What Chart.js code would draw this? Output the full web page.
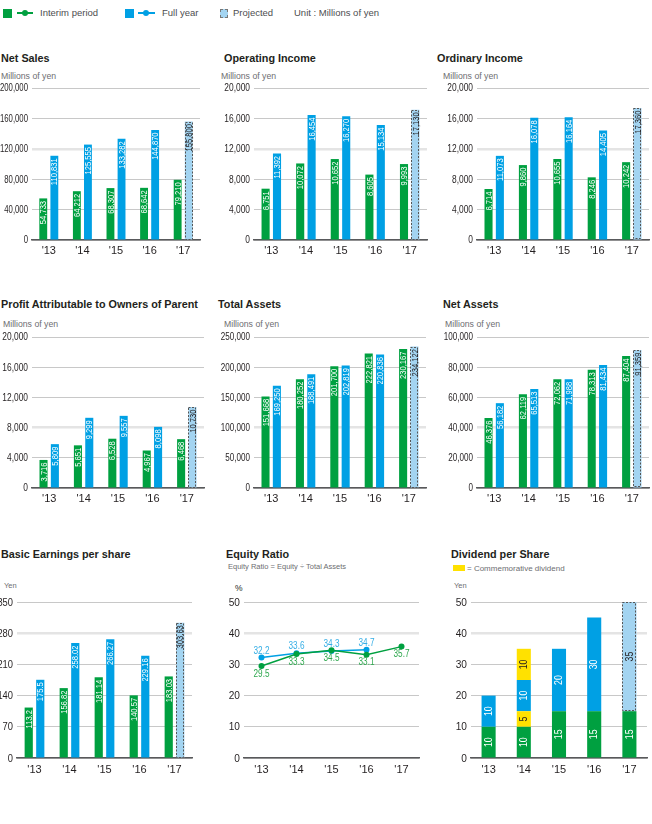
<!DOCTYPE html>
<html><head><meta charset="utf-8">
<script src="https://cdn.jsdelivr.net/npm/chart.js@4.4.1/dist/chart.umd.min.js"></script>
<style>
body{margin:0;background:#fff;width:652px;height:824px;position:relative;overflow:hidden;font-family:'Liberation Sans',Arial,sans-serif;}
.t{position:absolute;font-weight:bold;font-size:10.8px;color:#231f20;white-space:nowrap;line-height:14px;}
.u{position:absolute;font-size:8.7px;color:#6d6e71;white-space:nowrap;line-height:12px;}
.lg{position:absolute;font-size:9.5px;color:#4d4d4f;white-space:nowrap;line-height:12px;top:7px;}
.sw{position:absolute;}
canvas{position:absolute;}
</style></head><body>
<!-- legend -->
<div class="sw" style="left:3px;top:9px;width:9px;height:9px;background:#00a040"></div>
<div class="sw" style="left:17px;top:12px;width:16px;height:1.5px;background:#00a040"></div>
<div class="sw" style="left:22px;top:10px;width:6px;height:6px;border-radius:50%;background:#00a040"></div>
<div class="lg" style="left:40px">Interim period</div>
<div class="sw" style="left:125px;top:9px;width:9px;height:9px;background:#00a0e4"></div>
<div class="sw" style="left:138px;top:12px;width:17px;height:1.5px;background:#00a0e4"></div>
<div class="sw" style="left:143px;top:10px;width:6px;height:6px;border-radius:50%;background:#00a0e4"></div>
<div class="lg" style="left:162px">Full year</div>
<div class="sw" style="left:220px;top:9px;width:6px;height:7px;background:#a3d4f1;border:1px dashed #777"></div>
<div class="lg" style="left:233px">Projected</div>
<div class="lg" style="left:294px">Unit : Millions of yen</div>

<div class="t" style="left:1px;top:51px">Net Sales</div>
<div class="u" style="left:1px;top:70px">Millions of yen</div>
<div class="t" style="left:224px;top:51px">Operating Income</div>
<div class="u" style="left:221px;top:70px">Millions of yen</div>
<div class="t" style="left:437px;top:51px">Ordinary Income</div>
<div class="u" style="left:443px;top:70px">Millions of yen</div>

<div class="t" style="left:1px;top:297px">Profit Attributable to Owners of Parent</div>
<div class="u" style="left:3px;top:318px">Millions of yen</div>
<div class="t" style="left:218px;top:297px">Total Assets</div>
<div class="u" style="left:224px;top:318px">Millions of yen</div>
<div class="t" style="left:443px;top:297px">Net Assets</div>
<div class="u" style="left:445px;top:318px">Millions of yen</div>

<div class="t" style="left:1px;top:547px">Basic Earnings per share</div>
<div class="u" style="left:4px;top:580px;font-size:7.5px">Yen</div>
<div class="t" style="left:226px;top:547px">Equity Ratio</div>
<div class="u" style="left:228px;top:561px;font-size:7.5px">Equity Ratio = Equity ÷ Total Assets</div>
<div class="u" style="left:235px;top:582px;font-size:8.5px;color:#231f20">%</div>
<div class="t" style="left:451px;top:547px">Dividend per Share</div>
<div class="sw" style="left:453px;top:565px;width:12px;height:6px;background:#ffe100"></div>
<div class="u" style="left:467px;top:563px;font-size:8px">= Commemorative dividend</div>
<div class="u" style="left:454px;top:580px;font-size:7.5px">Yen</div>

<script>
const years = ["'13", "'14", "'15", "'16", "'17"];
const projectedIndex = 4;

const netSalesInterim = [54733, 64212, 68307, 68642, 79210];
const netSalesFull = [110831, 125555, 133282, 144870, 155800];
const opIncomeInterim = [6751, 10072, 10652, 8605, 9993];
const opIncomeFull = [11392, 16454, 16270, 15134, 17130];
const ordIncomeInterim = [6714, 9860, 10655, 8246, 10242];
const ordIncomeFull = [11073, 16078, 16164, 14405, 17360];
const profitInterim = [3716, 5651, 6528, 4967, 6468];
const profitFull = [5809, 9299, 9557, 8098, 10730];
const totalAssetsInterim = [151668, 180252, 201700, 222821, 230167];
const totalAssetsFull = [169250, 188491, 202819, 220836, 234122];
const netAssetsInterim = [46376, 62119, 72062, 78313, 87404];
const netAssetsFull = [56182, 65513, 71988, 81434, 91359];
const epsInterim = [113.2, 156.82, 181.14, 140.57, 183.03];
const epsFull = [175.5, 258.02, 266.27, 229.16, 303.63];
const equityInterim = [29.5, 33.3, 34.5, 33.1, 35.7];
const equityFull = [32.2, 33.6, 34.3, 34.7, null];
const divInterim = [10, 10, 15, 15, 15];
const divCommemInterim = [null, 5, null, null, null];
const divYearEnd = [10, 10, 20, 30, 35];
const divCommemYearEnd = [null, 10, null, null, null];

const GREEN = '#00a040', BLUE = '#00a0e4', PROJ = '#a3d4f1', YELLOW = '#ffe100';
const NUMF = "'Liberation Sans',Arial,sans-serif";
const TXTF = "'Liberation Sans',Arial,sans-serif";
const PADL = 44, PADR = 4, PADT = 8, XH = 22;

const fmtComma = v => Number(v).toLocaleString('en-US');
const fmtPlain = v => String(v);

// condensed text helper
function condText(ctx, txt, x, y, sx, align) {
  ctx.save();
  ctx.translate(x, y);
  ctx.scale(sx, 1);
  ctx.textAlign = align;
  ctx.fillText(txt, 0, 0);
  ctx.restore();
}

const yTicks = {
  id: 'yTicks',
  afterDraw(chart, args, opts) {
    const s = chart.scales.y, ctx = chart.ctx;
    ctx.save();
    ctx.fillStyle = '#231f20';
    ctx.font = opts.size + 'px ' + NUMF;
    ctx.textBaseline = 'middle';
    s.ticks.forEach(t => {
      condText(ctx, opts.fmt(t.value), s.right - 4, s.getPixelForValue(t.value) + 0.5, opts.sx, 'right');
    });
    ctx.restore();
  }
};

const barLabels = {
  id: 'barLabels',
  afterDatasetsDraw(chart, args, opts) {
    const ctx = chart.ctx;
    chart.data.datasets.forEach((ds, di) => {
      const meta = chart.getDatasetMeta(di);
      meta.data.forEach((el, i) => {
        const v = ds.data[i];
        if (v == null) return;
        const p = el.getProps(['x', 'y', 'base', 'width'], true);
        const isProj = ds.projIndex === i;
        ctx.save();
        if (isProj) {
          ctx.setLineDash([2, 1.5]);
          ctx.strokeStyle = '#555';
          ctx.lineWidth = 1;
          ctx.strokeRect(Math.round(p.x - p.width / 2) + 0.5, Math.round(p.y) + 0.5, Math.round(p.width) - 1, Math.round(p.base - p.y) - 1);
          ctx.setLineDash([]);
        }
        const col = Array.isArray(ds.labelColor) ? ds.labelColor[i] : ds.labelColor;
        ctx.fillStyle = col;
        ctx.font = opts.size + 'px ' + NUMF;
        ctx.textBaseline = 'middle';
        const txt = (ds.fmt || fmtComma)(v);
        if (opts.mode === 'center') {
          ctx.translate(p.x + 0.5, (p.y + p.base) / 2);
          ctx.rotate(-Math.PI / 2);
          ctx.scale(opts.sx, 1);
          ctx.textAlign = 'center';
        } else {
          ctx.translate(p.x + 0.5, p.y + 2.5);
          ctx.rotate(-Math.PI / 2);
          ctx.scale(opts.sx, 1);
          ctx.textAlign = 'right';
        }
        ctx.fillText(txt, 0, 0);
        ctx.restore();
      });
    });
  }
};

const lineLabels = {
  id: 'lineLabels',
  afterDatasetsDraw(chart) {
    const ctx = chart.ctx;
    chart.data.datasets.forEach((ds, di) => {
      const meta = chart.getDatasetMeta(di);
      meta.data.forEach((el, i) => {
        const v = ds.data[i];
        if (v == null) return;
        ctx.save();
        ctx.fillStyle = ds.labelColor;
        ctx.font = '10px ' + NUMF;
        ctx.textBaseline = 'middle';
        condText(ctx, String(v), el.x, el.y + (ds.labelPos === 'above' ? -6.5 : 8), 0.82, 'center');
        ctx.restore();
      });
    });
  }
};

function mkCanvas(g) {
  const c = document.createElement('canvas');
  const W = g.R - g.L + PADL + PADR, H = g.B - g.T + PADT + XH;
  c.width = W; c.height = H;
  c.style.left = (g.L - PADL) + 'px'; c.style.top = (g.T - PADT) + 'px';
  c.style.width = W + 'px'; c.style.height = H + 'px';
  document.body.appendChild(c);
  return c;
}

function yScale(max, step, special, stacked) {
  return {
    stacked: !!stacked, min: 0, max: max,
    ticks: { stepSize: step, display: false },
    grid: {
      drawTicks: false,
      color: c => (c.tick && c.tick.value === special) ? '#e4e4e4' : '#c8c8c8',
      lineWidth: c => (c.tick && c.tick.value === special) ? 2.5 : 1
    },
    border: { display: false },
    afterFit: s => { s.width = PADL; }
  };
}
function xScale(stacked, pad) {
  return {
    stacked: !!stacked,
    grid: { display: false, drawTicks: false },
    border: { color: '#58595b', width: 1.5 },
    ticks: { color: '#231f20', font: { family: TXTF, size: 11 }, padding: pad, maxRotation: 0, autoSkip: false },
    afterFit: s => { s.height = XH; }
  };
}
const baseOpts = {
  responsive: false, animation: false, devicePixelRatio: 1,
  layout: { padding: { left: 0, top: PADT, right: PADR, bottom: 0 } }
};

function barChart(g, interim, full, yMax, yStep, special, fmtTick, fmtLabel, tickSize, tickSx, xpad) {
  const c = mkCanvas(g);
  new Chart(c, {
    type: 'bar',
    data: {
      labels: years,
      datasets: [
        { data: interim, backgroundColor: GREEN, labelColor: '#fff', fmt: fmtLabel,
          categoryPercentage: 0.66, barPercentage: 0.71 },
        { data: full, backgroundColor: full.map((v, i) => i === projectedIndex ? PROJ : BLUE),
          labelColor: full.map((v, i) => i === projectedIndex ? '#231f20' : '#fff'),
          projIndex: projectedIndex, fmt: fmtLabel,
          categoryPercentage: 0.66, barPercentage: 0.71 }
      ]
    },
    options: Object.assign({}, baseOpts, {
      plugins: { legend: { display: false }, tooltip: { enabled: false },
        barLabels: { mode: 'top', size: 9.5, sx: 0.8 },
        yTicks: { fmt: fmtTick, size: tickSize, sx: tickSx } },
      scales: { x: xScale(false, xpad), y: yScale(yMax, yStep, special) }
    }),
    plugins: [barLabels, yTicks]
  });
}

barChart({ L: 32, R: 200, T: 88, B: 240 }, netSalesInterim, netSalesFull, 200000, 40000, 120000, fmtComma, fmtComma, 10.5, 0.74, 4);
barChart({ L: 254, R: 427, T: 88, B: 240 }, opIncomeInterim, opIncomeFull, 20000, 4000, 12000, fmtComma, fmtComma, 10.5, 0.8, 4);
barChart({ L: 477, R: 649, T: 88, B: 240 }, ordIncomeInterim, ordIncomeFull, 20000, 4000, 12000, fmtComma, fmtComma, 10.5, 0.8, 4);
barChart({ L: 32, R: 204, T: 337, B: 488 }, profitInterim, profitFull, 20000, 4000, 8000, fmtComma, fmtComma, 10.5, 0.8, 4);
barChart({ L: 254, R: 426, T: 337, B: 488 }, totalAssetsInterim, totalAssetsFull, 250000, 50000, 100000, fmtComma, fmtComma, 10.5, 0.77, 4);
barChart({ L: 477, R: 649, T: 337, B: 488 }, netAssetsInterim, netAssetsFull, 100000, 20000, 40000, fmtComma, fmtComma, 10.5, 0.77, 4);
barChart({ L: 17, R: 192, T: 602, B: 758 }, epsInterim, epsFull, 350, 70, 280, fmtPlain, fmtPlain, 11, 0.85, 5);

// Equity ratio
(function () {
  const c = mkCanvas({ L: 244, R: 419, T: 602, B: 758 });
  new Chart(c, {
    type: 'line',
    data: {
      labels: years,
      datasets: [
        { data: equityInterim, borderColor: GREEN, backgroundColor: GREEN, borderWidth: 1.5, pointRadius: 3,
          pointBorderWidth: 0, labelColor: '#2fa84f', labelPos: 'below', tension: 0 },
        { data: equityFull, borderColor: BLUE, backgroundColor: BLUE, borderWidth: 1.5, pointRadius: 3,
          pointBorderWidth: 0, labelColor: '#36aee5', labelPos: 'above', tension: 0 }
      ]
    },
    options: Object.assign({}, baseOpts, {
      plugins: { legend: { display: false }, tooltip: { enabled: false },
        yTicks: { fmt: fmtPlain, size: 11.5, sx: 0.88 } },
      scales: {
        x: Object.assign(xScale(false, 5), { offset: true }),
        y: yScale(50, 10, 40)
      }
    }),
    plugins: [lineLabels, yTicks]
  });
})();

// Dividend per share
(function () {
  const c = mkCanvas({ L: 471, R: 647, T: 602, B: 758 });
  const common = { categoryPercentage: 1, barPercentage: 0.4, fmt: fmtPlain, stack: 's' };
  new Chart(c, {
    type: 'bar',
    data: {
      labels: years,
      datasets: [
        Object.assign({ data: divInterim, backgroundColor: GREEN, labelColor: '#fff' }, common),
        Object.assign({ data: divCommemInterim, backgroundColor: YELLOW, labelColor: '#231f20' }, common),
        Object.assign({ data: divYearEnd, backgroundColor: divYearEnd.map((v, i) => i === projectedIndex ? PROJ : BLUE),
          labelColor: divYearEnd.map((v, i) => i === projectedIndex ? '#231f20' : '#fff'), projIndex: projectedIndex }, common),
        Object.assign({ data: divCommemYearEnd, backgroundColor: YELLOW, labelColor: '#231f20' }, common)
      ]
    },
    options: Object.assign({}, baseOpts, {
      plugins: { legend: { display: false }, tooltip: { enabled: false },
        barLabels: { mode: 'center', size: 10, sx: 0.88 },
        yTicks: { fmt: fmtPlain, size: 11.5, sx: 0.88 } },
      scales: { x: xScale(true, 5), y: yScale(50, 10, 40, true) }
    }),
    plugins: [barLabels, yTicks]
  });
})();
</script>
</body></html>
